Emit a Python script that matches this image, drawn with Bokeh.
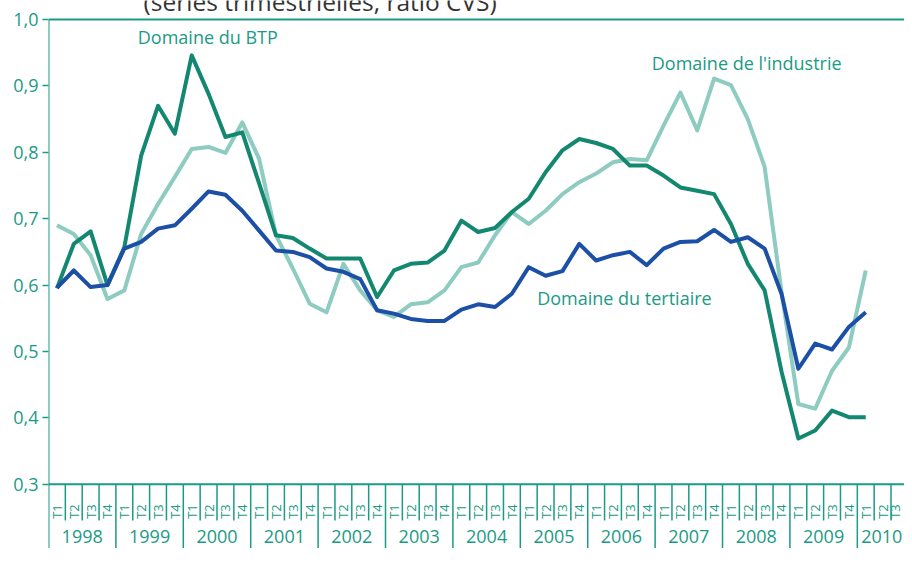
import numpy as np
from bokeh.plotting import figure
from bokeh.models import Range1d, FixedTicker, CustomJSTickFormatter, ColumnDataSource
from bokeh.core.properties import value
from bokeh.embed import file_html
from bokeh.resources import INLINE

# ---- data ----
years = [str(y) for y in range(1998, 2011)]
quarter_names = ["T1", "T2", "T3", "T4"]
y_ticks = [0.3, 0.4, 0.5, 0.6, 0.7, 0.8, 0.9, 1.0]

btp = [0.595, 0.662, 0.681, 0.600, 0.657, 0.795, 0.870, 0.828,
       0.946, 0.888, 0.823, 0.830, 0.753, 0.675, 0.671, 0.655,
       0.640, 0.640, 0.640, 0.582, 0.622, 0.632, 0.634, 0.652,
       0.697, 0.680, 0.686, 0.710, 0.730, 0.770, 0.803, 0.820,
       0.814, 0.805, 0.780, 0.780, 0.765, 0.747, 0.742, 0.737,
       0.692, 0.632, 0.592, 0.470, 0.369, 0.381, 0.411, 0.401,
       0.401]
industrie = [0.690, 0.677, 0.645, 0.579, 0.592, 0.677, 0.722, 0.763,
             0.805, 0.808, 0.799, 0.845, 0.790, 0.675, 0.625, 0.572,
             0.559, 0.632, 0.592, 0.562, 0.552, 0.571, 0.574, 0.592,
             0.627, 0.634, 0.675, 0.710, 0.692, 0.712, 0.737, 0.755,
             0.768, 0.785, 0.790, 0.788, 0.840, 0.890, 0.833, 0.911,
             0.901, 0.850, 0.778, 0.590, 0.421, 0.414, 0.471, 0.506,
             0.622]
tertiaire = [0.596, 0.622, 0.597, 0.600, 0.655, 0.665, 0.685, 0.690,
             0.715, 0.741, 0.736, 0.712, 0.682, 0.652, 0.650, 0.642,
             0.625, 0.620, 0.609, 0.562, 0.557, 0.549, 0.546, 0.546,
             0.563, 0.571, 0.567, 0.587, 0.627, 0.614, 0.621, 0.662,
             0.637, 0.645, 0.650, 0.630, 0.655, 0.665, 0.666, 0.683,
             0.665, 0.672, 0.655, 0.587, 0.474, 0.512, 0.503, 0.537,
             0.559]

# ---- style ----
TEAL = "#1b9a86"
C_BTP = "#13876f"
C_IND = "#8ecbc0"
C_TER = "#1c4fa6"
FONT = "Open Sans"

X_END = 50.8
Y_START, Y_END = 0.2033, 1.0286

p = figure(width=904, height=548, output_backend="svg", toolbar_location=None,
           x_range=Range1d(0, X_END), y_range=Range1d(Y_START, Y_END),
           x_axis_location=None, y_axis_location="left",
           min_border_left=48, min_border_right=0, min_border_top=0, min_border_bottom=0)
p.outline_line_color = None
p.grid.visible = False
p.background_fill_color = "white"
p.border_fill_color = "white"

ax = p.yaxis[0]
ax.ticker = FixedTicker(ticks=y_ticks)
ax.formatter = CustomJSTickFormatter(code="return tick.toFixed(1).replace('.', ',');")
ax.axis_line_color = None
ax.major_tick_line_color = TEAL
ax.major_tick_line_width = 1.5
ax.major_tick_out = 6
ax.major_tick_in = 0
ax.minor_tick_line_color = None
ax.major_label_standoff = 4
ax.major_label_text_color = TEAL
ax.major_label_text_font = FONT
ax.major_label_text_font_size = "18px"

n_q = len(years) * 4
# frame lines
p.segment(x0=[0, 0, 0], y0=[1.0, 0.3, 1.0], x1=[0, X_END + 1, X_END + 1], y1=[Y_START - 0.05, 0.3, 1.0],
          line_color=TEAL, line_width=2)
# separators
yx = [4 * k for k in range(1, len(years) + 1)]
p.segment(x0=yx, y0=[0.3] * len(yx), x1=yx, y1=[Y_START - 0.05] * len(yx),
          line_color=TEAL, line_width=1.5)
qx = [i for i in range(1, n_q) if i % 4 != 0]
p.segment(x0=qx, y0=[0.3] * len(qx), x1=qx, y1=[0.2455] * len(qx),
          line_color=TEAL, line_width=1.5)

# quarter labels (the last, hidden quarter of 2010 is omitted)
n_lab = n_q - 1
q_x = [i + 0.5 for i in range(n_lab)]
q_x[-1] = min(q_x[-1], X_END - 0.55)
qsrc = ColumnDataSource(dict(x=q_x, y=[0.259] * n_lab,
                             t=[quarter_names[i % 4] for i in range(n_lab)]))
p.text(x="x", y="y", text="t", source=qsrc, angle=np.pi / 2, text_align="center",
       text_baseline="middle", text_color=TEAL, text_font=value(FONT), text_font_size="13px")
# year labels
yl_x = [4 * k + 2 for k in range(len(years))]
yl_x[-1] = min(yl_x[-1], X_END - 1.35)
ysrc = ColumnDataSource(dict(x=yl_x, y=[0.2214] * len(years), t=years))
p.text(x="x", y="y", text="t", source=ysrc, text_align="center", text_baseline="middle",
       text_color=TEAL, text_font=value(FONT), text_font_size="18px")

# series
xs = [i + 0.5 for i in range(len(btp))]
p.line(xs, industrie, line_color=C_IND, line_width=4, line_join="round")
p.line(xs, btp, line_color=C_BTP, line_width=4, line_join="round")
p.line(xs, tertiaire, line_color=C_TER, line_width=4, line_join="round")

# annotations
p.text(x=[5.3], y=[0.973], text=["Domaine du BTP"], text_align="left", text_baseline="middle",
       text_color=TEAL, text_font=value(FONT), text_font_size="18px")
p.text(x=[35.8], y=[0.934], text=["Domaine de l'industrie"], text_align="left", text_baseline="middle",
       text_color=TEAL, text_font=value(FONT), text_font_size="18px")
p.text(x=[29.0], y=[0.580], text=["Domaine du tertiaire"], text_align="left", text_baseline="middle",
       text_color=TEAL, text_font=value(FONT), text_font_size="18px")

# subtitle, cut off by the top edge as in the source picture
p.text(x=[5.64], y=[1.0271], text=["(séries trimestrielles, ratio CVS)"], text_align="left",
       text_baseline="middle", text_color="#333333", text_font=value(FONT), text_font_size="24.5px")

open("out.html", "w").write(file_html(p, INLINE))
